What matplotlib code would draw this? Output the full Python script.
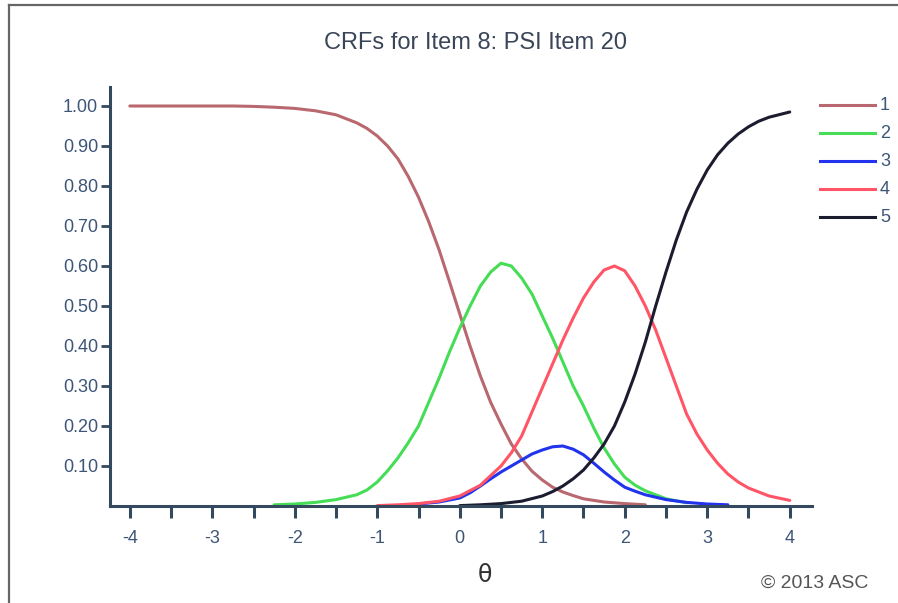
import matplotlib
matplotlib.use("Agg")
import matplotlib.pyplot as plt
from matplotlib.lines import Line2D
from matplotlib.ticker import MultipleLocator, FixedLocator

plt.rcParams['font.family'] = ['Liberation Sans', 'DejaVu Sans']

title = "CRFs for Item 8: PSI Item 20"
series_names = ["1", "2", "3", "4", "5"]
series_colors = ["#b8686e", "#44dd55", "#2233ee", "#ff5566", "#1c1c30"]

# theta grids (per curve) and probabilities
theta1 = [-4.0, -3.5, -3.0, -2.75, -2.5, -2.25, -2.0, -1.75, -1.5, -1.25, -1.125,
          -1.0, -0.875, -0.75, -0.625, -0.5, -0.375, -0.25, -0.125, 0.0, 0.125, 0.25,
          0.375, 0.5, 0.625, 0.75, 0.875, 1.0, 1.125, 1.25, 1.375, 1.5, 1.75, 2.0, 2.25]
p1 = [1.0, 1.0, 1.0, 1.0, 0.999, 0.997, 0.994, 0.988, 0.978, 0.958, 0.944,
      0.925, 0.90, 0.868, 0.824, 0.772, 0.71, 0.64, 0.561, 0.48, 0.40, 0.325,
      0.259, 0.205, 0.155, 0.118, 0.087, 0.065, 0.047, 0.035, 0.026, 0.018, 0.010, 0.006, 0.003]

theta2 = [-2.25, -2.0, -1.75, -1.5, -1.25, -1.125, -1.0, -0.875, -0.75, -0.625, -0.5,
          -0.375, -0.25, -0.125, 0.0, 0.125, 0.25, 0.375, 0.5, 0.625, 0.75, 0.875, 1.0,
          1.125, 1.25, 1.375, 1.5, 1.625, 1.75, 1.875, 2.0, 2.125, 2.25, 2.5, 2.75]
p2 = [0.003, 0.005, 0.009, 0.016, 0.028, 0.04, 0.06, 0.088, 0.12, 0.158, 0.20,
      0.26, 0.32, 0.385, 0.445, 0.50, 0.55, 0.585, 0.607, 0.60, 0.57, 0.53, 0.475,
      0.42, 0.36, 0.30, 0.25, 0.195, 0.145, 0.105, 0.072, 0.052, 0.038, 0.018, 0.008]

theta3 = [-0.5, -0.25, 0.0, 0.125, 0.25, 0.375, 0.5, 0.625, 0.75, 0.875, 1.0, 1.125,
          1.25, 1.375, 1.5, 1.625, 1.75, 1.875, 2.0, 2.125, 2.25, 2.5, 2.75, 3.0, 3.25]
p3 = [0.005, 0.01, 0.02, 0.033, 0.05, 0.068, 0.085, 0.10, 0.115, 0.13, 0.14, 0.148,
      0.15, 0.142, 0.128, 0.107, 0.085, 0.065, 0.047, 0.037, 0.028, 0.016, 0.009, 0.005, 0.003]

theta4 = [-1.0, -0.75, -0.5, -0.25, 0.0, 0.25, 0.5, 0.625, 0.75, 0.875, 1.0, 1.125,
          1.25, 1.375, 1.5, 1.625, 1.75, 1.875, 2.0, 2.125, 2.25, 2.375, 2.5, 2.625,
          2.75, 2.875, 3.0, 3.125, 3.25, 3.375, 3.5, 3.75, 4.0]
p4 = [0.001, 0.003, 0.006, 0.012, 0.025, 0.052, 0.10, 0.133, 0.175, 0.235, 0.295, 0.355,
      0.415, 0.47, 0.52, 0.56, 0.59, 0.60, 0.588, 0.55, 0.50, 0.44, 0.37, 0.30,
      0.23, 0.18, 0.14, 0.107, 0.08, 0.06, 0.045, 0.025, 0.014]

theta5 = [0.0, 0.25, 0.5, 0.75, 1.0, 1.125, 1.25, 1.375, 1.5, 1.625, 1.75, 1.875, 2.0,
          2.125, 2.25, 2.375, 2.5, 2.625, 2.75, 2.875, 3.0, 3.125, 3.25, 3.375, 3.5,
          3.625, 3.75, 4.0]
p5 = [0.001, 0.003, 0.006, 0.012, 0.025, 0.036, 0.05, 0.068, 0.09, 0.12, 0.155, 0.20, 0.26,
      0.33, 0.41, 0.50, 0.585, 0.665, 0.735, 0.792, 0.84, 0.878, 0.907, 0.93, 0.948,
      0.962, 0.972, 0.985]

x_ticks = [-4, -3, -2, -1, 0, 1, 2, 3, 4]
y_ticks = [0.10, 0.20, 0.30, 0.40, 0.50, 0.60, 0.70, 0.80, 0.90, 1.00]

W, H = 898, 603
fig = plt.figure(figsize=(W / 100, H / 100), dpi=100)

axis_color = "#34495e"
label_color = "#3d5577"

ax = fig.add_axes([110 / W, 1 - 506 / H, (812 - 110) / W, (506 - 87) / H])
thetas = [theta1, theta2, theta3, theta4, theta5]
probs = [p1, p2, p3, p4, p5]
for th, p, c in zip(thetas, probs, series_colors):
    ax.plot(th, p, color=c, lw=2.2, solid_capstyle='round', solid_joinstyle='round')

ax.set_xlim(-4.24, 4.27)
ax.set_ylim(0, 1.0475)
for s in ['top', 'right']:
    ax.spines[s].set_visible(False)
for s in ['left', 'bottom']:
    ax.spines[s].set_color(axis_color)
    ax.spines[s].set_linewidth(2.2)

ax.xaxis.set_major_locator(FixedLocator(x_ticks))
ax.xaxis.set_minor_locator(MultipleLocator(0.5))
ax.set_xticklabels([str(v) for v in x_ticks])
ax.yaxis.set_major_locator(FixedLocator(y_ticks))
ax.set_yticklabels([f"{v:.2f}" for v in y_ticks])
ax.tick_params(axis='x', which='both', direction='out', length=8.5, width=2.2,
               color=axis_color, labelsize=13, labelcolor=label_color, pad=9)
ax.tick_params(axis='y', which='major', direction='out', length=6.5, width=2.0,
               color=axis_color, labelsize=13, labelcolor=label_color, pad=2)
ax.patch.set_alpha(0)

fig.text(475 / W, 1 - 43 / H, title, ha='center', va='center', fontsize=17, color="#3a4658")
fig.text(485 / W, 1 - 575 / H, "θ", ha='center', va='center', fontsize=17, color="#333333",
         family=['DejaVu Sans'])
fig.text(868 / W, 1 - 583 / H, "© 2013 ASC", ha='right', va='center', fontsize=14, color="#555555")

# legend
for i, (name, c) in enumerate(zip(series_names, series_colors)):
    y = 1 - (105 + i * 28) / H
    fig.add_artist(Line2D([820 / W, 875 / W], [y, y], color=c, lw=2.2,
                          transform=fig.transFigure))
    fig.text(880 / W, y, name, ha='left', va='center', fontsize=13, color=label_color)

# frame border (top and left visible)
fig.add_artist(Line2D([9 / W, 1.0], [1 - 5 / H, 1 - 5 / H], color="#666666", lw=1.6,
                      transform=fig.transFigure))
fig.add_artist(Line2D([9 / W, 9 / W], [0, 1 - 5 / H], color="#666666", lw=1.6,
                      transform=fig.transFigure))

fig.savefig("out.png", dpi=100)
